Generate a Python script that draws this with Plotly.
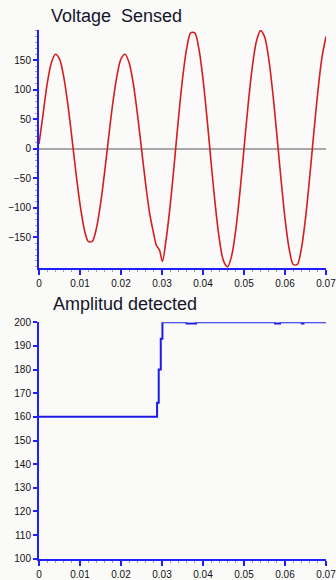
import plotly.graph_objects as go

# Sensed voltage samples (time in s, voltage in V)
v_time = [
    0.000, 0.001, 0.002, 0.003, 0.004, 0.005, 0.006, 0.007, 0.008, 0.009,
    0.010, 0.011, 0.012, 0.013, 0.014, 0.015, 0.016, 0.017, 0.018, 0.019,
    0.020, 0.021, 0.022, 0.023, 0.024, 0.025, 0.026, 0.027, 0.028, 0.0286,
    0.0294, 0.0301, 0.031, 0.032, 0.033, 0.034, 0.035, 0.036, 0.037, 0.038,
    0.039, 0.040, 0.041, 0.042, 0.043, 0.044, 0.045, 0.046, 0.047, 0.048,
    0.049, 0.050, 0.051, 0.052, 0.053, 0.054, 0.055, 0.056, 0.057, 0.058,
    0.059, 0.060, 0.061, 0.062, 0.063, 0.064, 0.065, 0.066, 0.067, 0.068,
    0.069, 0.070,
]
v_value = [
    8, 59, 110, 145, 160, 152, 123, 77, 20, -40,
    -94, -135, -157, -157, -135, -94, -40, 20, 77, 123,
    152, 160, 145, 110, 59, 0, -59, -110, -145, -163,
    -172, -191, -154, -96, -25, 50, 118, 169, 196, 196,
    169, 118, 50, -25, -96, -154, -190, -200, -181, -137,
    -74, 0, 74, 137, 181, 200, 190, 154, 96, 25,
    -50, -118, -169, -196, -196, -169, -118, -50, 25, 96,
    154, 190,
]

# Detected amplitude (held between samples)
a_time = [0, 0.0288, 0.0292, 0.0297, 0.0301, 0.0360, 0.0383, 0.0576,
          0.0588, 0.0641, 0.0645, 0.070]
a_value = [160, 166, 180, 193, 200, 199.5, 200, 199.5, 200, 199.5, 200, 200]

x_ticks = [0, 0.01, 0.02, 0.03, 0.04, 0.05, 0.06, 0.07]
x_labels = ["0", "0.01", "0.02", "0.03", "0.04", "0.05", "0.06", "0.07"]
v_ticks = [-150, -100, -50, 0, 50, 100, 150]
a_ticks = [100, 110, 120, 130, 140, 150, 160, 170, 180, 190, 200]

W, H = 336, 580
BLUE = "#1f1fff"
FONT = "Liberation Sans, Arial, sans-serif"
TICKFONT = dict(family=FONT, size=10, color="#111111")


def px_x(p):
    return p / W


def px_y(p):
    return 1 - p / H


fig = go.Figure()

fig.add_trace(go.Scatter(
    x=v_time, y=v_value, mode="lines", xaxis="x", yaxis="y",
    line=dict(color="#d41e1e", width=1.6, shape="spline", smoothing=0.8),
    hoverinfo="skip",
))
fig.add_trace(go.Scatter(
    x=a_time, y=a_value, mode="lines", xaxis="x2", yaxis="y2",
    line=dict(color="#1c1ce6", width=2, shape="hv"),
    hoverinfo="skip",
))

common_x = dict(
    range=[0, 0.07], tickvals=x_ticks, ticktext=x_labels, automargin=False,
    showgrid=False, zeroline=False, showline=True, linecolor=BLUE, linewidth=2,
    ticks="outside", ticklen=5, tickwidth=2, tickcolor=BLUE, tickfont=TICKFONT,
    ticklabeloverflow="allow",
    minor=dict(ticks="outside", dtick=0.002, ticklen=2, tickwidth=1, tickcolor="#a0a0a0"),
    fixedrange=True,
)
common_y = dict(
    showgrid=False, showline=True, linecolor=BLUE, linewidth=2, automargin=False,
    ticks="outside", ticklen=4, tickwidth=2, tickcolor=BLUE, tickfont=TICKFONT,
    ticklabelstandoff=0, fixedrange=True,
)

fig.update_layout(
    width=W, height=H,
    margin=dict(l=0, r=0, t=0, b=0),
    paper_bgcolor="#fafaf9", plot_bgcolor="#fafaf9",
    showlegend=False,
    xaxis=dict(domain=[px_x(39), px_x(326)], anchor="y", **common_x),
    yaxis=dict(domain=[px_y(268), px_y(30)], anchor="x", range=[-202, 201],
               tickvals=v_ticks, zeroline=True, zerolinecolor="#a8a8a8",
               zerolinewidth=2,
               minor=dict(ticks="outside", dtick=10, ticklen=2, tickwidth=1,
                          tickcolor="#a0a0a0"),
               **common_y),
    xaxis2=dict(domain=[px_x(39), px_x(326)], anchor="y2", **common_x),
    yaxis2=dict(domain=[px_y(558.7), px_y(322.3)], anchor="x2", range=[100, 200],
                tickvals=a_ticks, zeroline=False, **common_y),
    annotations=[
        dict(text="Voltage  Sensed", x=px_x(49), y=px_y(16), xref="paper", yref="paper",
             xanchor="left", yanchor="middle", showarrow=False,
             font=dict(family=FONT, size=18, color="#15152a")),
        dict(text="Amplitud detected", x=px_x(51), y=px_y(304), xref="paper", yref="paper",
             xanchor="left", yanchor="middle", showarrow=False,
             font=dict(family=FONT, size=18, color="#15152a")),
    ],
)

fig.write_html("out.html")
